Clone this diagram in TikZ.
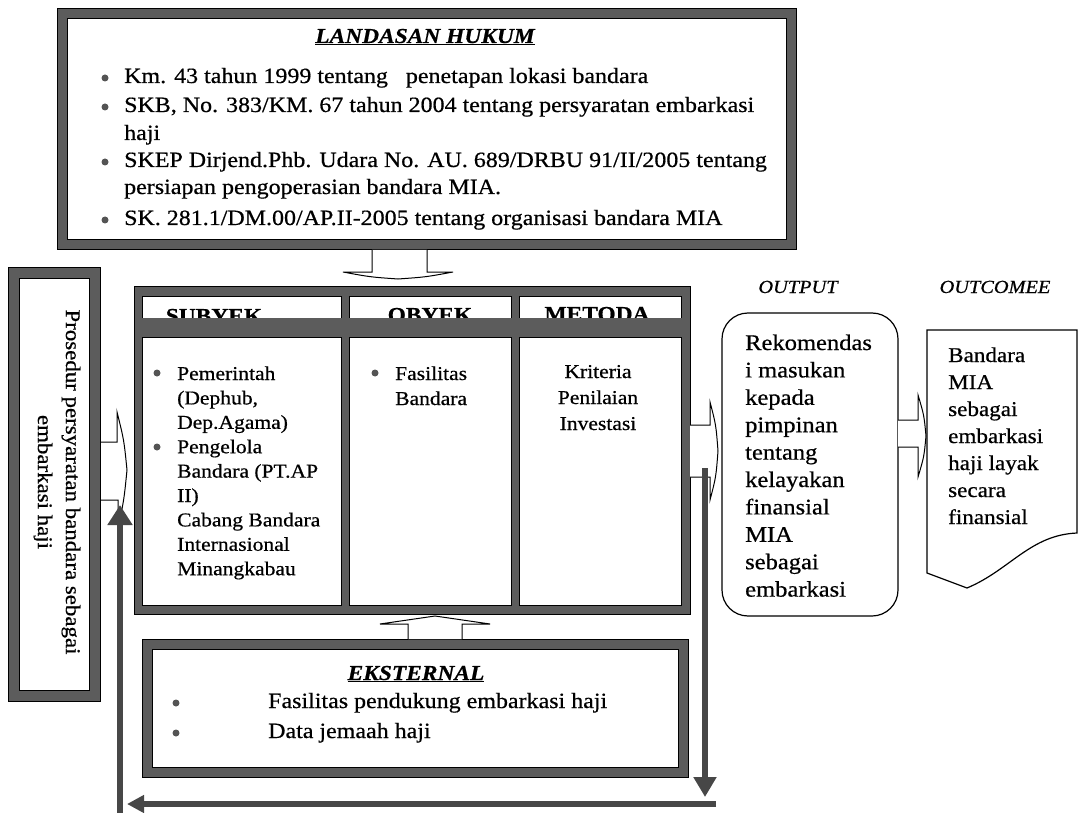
\documentclass[tikz,border=0pt]{standalone}
\usepackage{fontspec}
\setmainfont{Liberation Serif}[FakeStretch=1.1,FakeBold=0.6]
\usetikzlibrary{arrows.meta,calc}
\definecolor{bandgray}{gray}{0.36}
\definecolor{dotgray}{gray}{0.33}
\newcommand\myfs[2]{\fontsize{#1}{#2}\selectfont}
\begin{document}
\begin{tikzpicture}[x=1pt,y=-1pt,
  frame/.style={draw=black, line width=1pt, double=bandgray, double distance=9pt, inner sep=0pt},
  cell/.style={draw=black, line width=0.7pt, fill=white},
  hollow/.style={draw=black, line width=1pt, fill=white, line join=miter},
  fbline/.style={draw=black!72, line width=6pt},
  dot/.style={circle, fill=dotgray, inner sep=0pt, minimum size=7pt},
  lawtxt/.style={anchor=base west, inner sep=0pt, font=\myfs{21.8}{24}},
  midtxt/.style={anchor=base west, inner sep=0pt, font=\myfs{19.6}{22}},
  head/.style={anchor=base, inner sep=0pt, font=\bfseries\myfs{21.3}{24}},
  title/.style={anchor=base, inner sep=0pt, font=\bfseries\itshape\myfs{21.3}{24}},
  exttxt/.style={anchor=base west, inner sep=0pt, font=\myfs{21.8}{24}},
  outtxt/.style={anchor=base west, inner sep=0pt, font=\myfs{22.3}{24}},
  comtxt/.style={anchor=base west, inner sep=0pt, font=\myfs{21}{24}},
  lbl/.style={anchor=base, inner sep=0pt, font=\itshape\myfs{18.5}{20}}
]
\useasboundingbox (0,0) rectangle (1079,813);
\fill[white] (0,0) rectangle (1079,813);

% ---------- LANDASAN HUKUM ----------
\node[frame, minimum width=729pt, minimum height=231pt] (law) at (427,129) {};
\node[title] (lawtitle) at (425,43) {\underline{LANDASAN HUKUM}};
\node[dot] (ld1) at (105,78) {};
\node[dot] (ld2) at (105,107) {};
\node[dot] (ld3) at (105,162) {};
\node[dot] (ld4) at (105,220) {};
\node[lawtxt] (l1) at (124,83) {Km. 43 tahun 1999 tentang\ \ \ penetapan lokasi bandara};
\node[lawtxt] (l2) at (124,112) {SKB, No. 383/KM. 67 tahun 2004 tentang persyaratan embarkasi};
\node[lawtxt] (l3) at (124,140) {haji};
\node[lawtxt] (l4) at (124,167) {SKEP Dirjend.Phb. Udara No. AU. 689/DRBU 91/II/2005 tentang};
\node[lawtxt] (l5) at (124,194) {persiapan pengoperasian bandara MIA.};
\node[lawtxt] (l6) at (124,225) {SK. 281.1/DM.00/AP.II-2005 tentang organisasi bandara MIA};

% arrow law -> middle
\draw[hollow] (372,250) -- (372,272) -- (343,272) .. controls (370,277) .. (398,279)
  .. controls (426,277) .. (453,272) -- (427,272) -- (427,250);

% ---------- left box ----------
\node[draw=black, line width=1pt, double=bandgray, double distance=10pt, inner sep=0pt,
      minimum width=81pt, minimum height=423pt] (proc) at (54.5,484.5) {};
\node[rotate=-90, align=center, inner sep=0pt, font=\myfs{20.8}{28}] (proctext) at (57,482)
  {Prosedur persyaratan bandara sebagai\\embarkasi haji};

% ---------- middle box ----------
\node[draw=black, line width=1pt, fill=bandgray, inner sep=0pt,
      minimum width=556pt, minimum height=328pt] (mid) at (412,450) {};
\draw[cell] (142,296) rectangle (341,318);
\draw[cell] (349,296) rectangle (511,318);
\draw[cell] (519,296) rectangle (681,318);
\node[head] (hs) at (214,323) {SUBYEK};
\node[head] (ho) at (430,322) {OBYEK};
\node[head] (hm) at (597,321) {METODA};
\fill[bandgray] (141.5,318) rectangle (681.5,336);
\draw[cell] (142,337) rectangle (341,605);
\draw[cell] (349,337) rectangle (511,605);
\draw[cell] (519,337) rectangle (681,605);

\node[dot] (sd1) at (157,373) {};
\node[dot] (sd2) at (157,447) {};
\foreach \t [count=\i] in {Pemerintah,{(Dephub,},{Dep.Agama)},Pengelola,{Bandara (PT.AP},{II)},{Cabang Bandara},Internasional,Minangkabau}
  \node[midtxt] (s\i) at (177,{380+24.4*(\i-1)}) {\t};

\node[dot] (od1) at (375,373) {};
\node[midtxt] (o1) at (395,380) {Fasilitas};
\node[midtxt] (o2) at (395,405) {Bandara};

\node[midtxt, anchor=base] (m1) at (598,378) {Kriteria};
\node[midtxt, anchor=base] (m2) at (598,404) {Penilaian};
\node[midtxt, anchor=base] (m3) at (598,430) {Investasi};

% arrow left box -> middle
\draw[hollow] (101,442) -- (117,442) -- (117,412) .. controls (124,440) .. (127,470)
  .. controls (124,500) .. (118,528) -- (118,500) -- (101,500);

% ---------- EKSTERNAL ----------
\node[frame, minimum width=536pt, minimum height=128pt] (ext) at (415.5,708.5) {};
\node[title] (exttitle) at (416,680) {\underline{EKSTERNAL}};
\node[dot] (ed1) at (176,703) {};
\node[dot] (ed2) at (176,733) {};
\node[exttxt] (e1) at (268,708) {Fasilitas pendukung embarkasi haji};
\node[exttxt] (e2) at (268,738) {Data jemaah haji};

% arrow ext -> middle
\draw[hollow] (408,639) -- (408,624) -- (380,624) -- (435,616) -- (490,624) -- (462,624) -- (462,639);

% ---------- OUTPUT ----------
\node[lbl] (outlbl) at (798,293) {OUTPUT};
\node[lbl] (comlbl) at (995,293) {OUTCOMEE};
\node[draw=black, line width=1.2pt, rounded corners=26pt, inner sep=0pt,
      minimum width=176pt, minimum height=303pt] (outbox) at (810,464.5) {};
\foreach \t [count=\i] in {Rekomendas,i masukan,kepada,pimpinan,tentang,kelayakan,finansial,MIA,sebagai,embarkasi}
  \node[outtxt] (r\i) at (745,{350+27.4*(\i-1)}) {\t};

% arrow middle -> output
\draw[hollow] (690,425) -- (710,425) -- (710,402) .. controls (716,425) .. (718,451)
  .. controls (716,477) .. (710,500) -- (710,477) -- (690,477);

% ---------- OUTCOME ----------
\draw[line width=1.2pt] (927,330) -- (1077,330) -- (1077,533)
  .. controls (1030,535) and (1010,570) .. (967,588) -- (927,573) -- cycle;
\coordinate (outcome) at (1000,450);
\foreach \t [count=\i] in {Bandara,MIA,sebagai,embarkasi,haji layak,secara,finansial}
  \node[comtxt] (c\i) at (948,{362+27*(\i-1)}) {\t};

% arrow output -> outcome
\draw[hollow] (898,420) -- (918,420) -- (918,395) .. controls (924,415) .. (926,436)
  .. controls (924,457) .. (918,477) -- (918,447) -- (898,447);

% ---------- feedback loop ----------
\coordinate (fbTop) at (705,468);
\coordinate (fbDown) at (705,797);
\coordinate (fbRight) at (716,804);
\coordinate (fbLeft) at (127,804);
\coordinate (fbBot) at (120,813);
\coordinate (fbUp) at (120,505);
\draw[fbline, -{Triangle[length=20pt,width=22pt]}] (fbTop) -- (fbDown);
\draw[fbline, -{Triangle[length=17pt,width=17pt]}] (fbRight) -- (fbLeft);
\draw[fbline, -{Triangle[length=20pt,width=24pt]}] (fbBot) -- (fbUp);
\end{tikzpicture}
\end{document}
